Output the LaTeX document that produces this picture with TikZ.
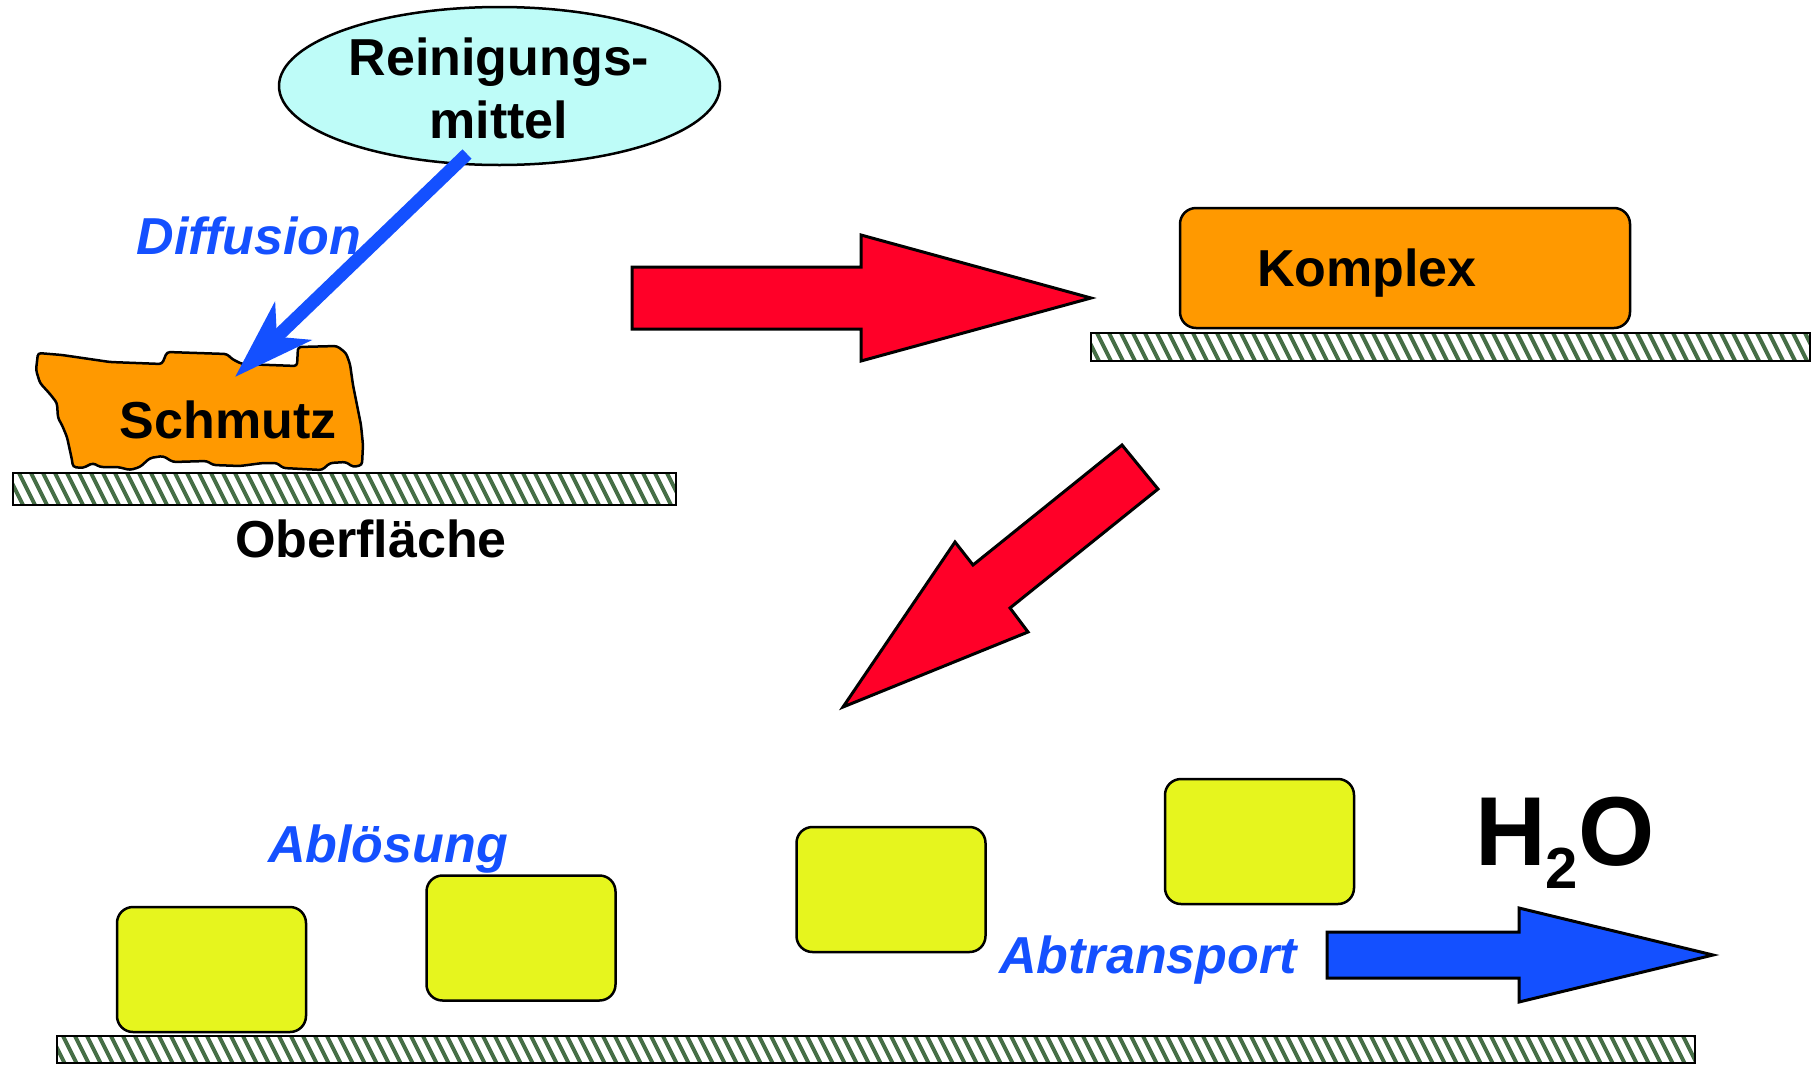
\documentclass[tikz,border=0pt]{standalone}
\usepackage{fontspec}
\setmainfont{Liberation Sans}
\usetikzlibrary{arrows.meta,shapes.geometric}

\definecolor{dirt}{RGB}{255,153,0}
\definecolor{flow}{RGB}{20,80,255}
\definecolor{push}{RGB}{255,0,40}
\definecolor{agent}{RGB}{190,252,248}
\definecolor{particle}{RGB}{230,245,30}
\definecolor{hatch}{RGB}{70,110,70}

\tikzset{
  lbl/.style={font=\fontsize{52}{60}\selectfont\bfseries, anchor=base, inner sep=0pt},
  bluelbl/.style={font=\fontsize{52}{60}\selectfont\bfseries\itshape, text=flow, anchor=base, inner sep=0pt},
  outline/.style={draw=black, line width=2.5pt},
  blockarrow/.style={draw=black, line width=3pt, line join=miter},
  particlebox/.style={outline, fill=particle, rounded corners=16pt},
}

% hatched surface strip: left, top, right, bottom
\newcommand\hatchbar[4]{%
  \fill[white] (#1,#2) rectangle (#3,#4);
  \begin{scope}
    \clip (#1,#2) rectangle (#3,#4);
    \pgfmathsetmacro\hh{#4-#2}
    \foreach \s in {0,12,...,1760}{
      \draw[hatch, line width=4pt] (#1-30+\s,#2) -- ++(0.5*\hh,\hh);
    }
  \end{scope}
  \draw[line width=2.5pt] (#1,#2) rectangle (#3,#4);
}

\begin{document}
\begin{tikzpicture}[x=1pt, y=-1pt]
  \useasboundingbox (0,0) rectangle (1812,1066);

  % --- cleaning agent ---
  \node[ellipse, outline, fill=agent, minimum width=441pt, minimum height=158pt, inner sep=0pt] (agent) at (499.5,86) {};
  \node[lbl] (agenttop) at (499,75) {Reinigungs-};
  \node[lbl] (agentbot) at (499,138) {mittel};

  % --- dirt on surface ---
  \hatchbar{13}{473}{676}{505}
  \draw[outline, fill=dirt, rounded corners=3pt]
    (38,353) -- (62,355) -- (110,362) -- (162,364) -- (167,352) -- (227,354)
    -- (232,359) -- (242,364) -- (297,366) -- (298,347) -- (337,346) -- (346,353)
    -- (350,364) -- (353,385) -- (357,405) -- (361,425) -- (363,445) -- (362,465)
    -- (353,467) -- (346,462) -- (330,463) -- (322,470) -- (283,468) -- (277,463)
    -- (263,463) -- (240,466) -- (213,465) -- (207,461) -- (173,462) -- (163,456)
    -- (150,458) -- (140,467) -- (130,470) -- (118,467) -- (100,467) -- (93,463)
    -- (83,468) -- (73,467) -- (72,460) -- (67,437) -- (62,425) -- (58,418)
    -- (57,403) -- (50,394) -- (40,383) -- (36,370) -- cycle;
  \node[lbl] (dirt) at (228,438) {Schmutz};
  \node[lbl] (surface) at (371,557) {Oberfläche};

  % --- diffusion of the agent into the dirt ---
  \coordinate (dstart) at (467,154);
  \coordinate (dtip) at (235,377);
  \draw[flow, line width=13pt, -{Stealth[length=80pt, width=52pt, inset=22pt]}] (dstart) -- (dtip);
  \node[bluelbl] (diffusion) at (249,254) {Diffusion};

  % --- step 1: complex formation ---
  \draw[blockarrow, fill=push] (632,267) -- (861,267) -- (861,235) -- (1091,298)
    -- (861,361) -- (861,329) -- (632,329) -- cycle;
  \hatchbar{1091}{333}{1810}{361}
  \node[draw=black, line width=2.5pt, fill=dirt, rounded corners=16pt,
        minimum width=450pt, minimum height=120pt, inner sep=0pt] (complexbox) at (1405,268) {};
  \node[lbl] (complex) at (1367,286) {Komplex};

  % --- step 2: detachment ---
  \draw[blockarrow, fill=push] (1122,445) -- (1158,489) -- (1010,608) -- (1028,632)
    -- (843,707) -- (955,542) -- (973,565) -- cycle;

  % --- detached particles carried away ---
  \hatchbar{57}{1036}{1695}{1063}
  \node[particlebox, minimum width=189pt, minimum height=125pt] (p1) at (211.5,969.5) {};
  \node[particlebox, minimum width=189pt, minimum height=125pt] (p2) at (521,938) {};
  \node[particlebox, minimum width=189pt, minimum height=125pt] (p3) at (891,889.5) {};
  \node[particlebox, minimum width=189pt, minimum height=125pt] (p4) at (1259.5,841.5) {};
  \node[bluelbl] (detach) at (388,862) {Ablösung};
  \node[bluelbl] (transport) at (1148,973) {Abtransport};
  \draw[blockarrow, fill=flow] (1327,932) -- (1519,932) -- (1519,908) -- (1713,955)
    -- (1519,1002) -- (1519,978) -- (1327,978) -- cycle;
  \node[anchor=base west, inner sep=0pt, font=\fontsize{98}{100}\selectfont\bfseries] (water) at (1475,865)
    {H\raisebox{-23pt}{\fontsize{58}{60}\selectfont 2}O};
\end{tikzpicture}
\end{document}
